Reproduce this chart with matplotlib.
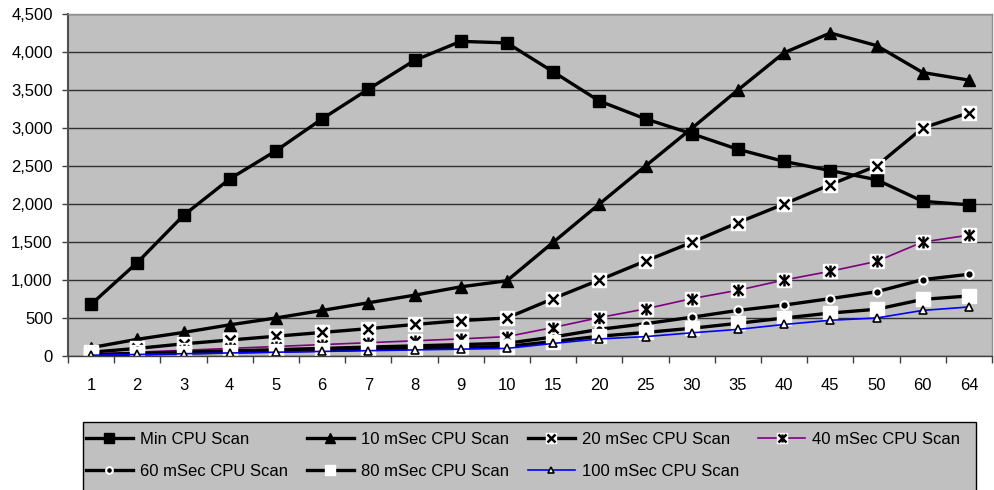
import matplotlib.pyplot as plt
import numpy as np
from matplotlib.lines import Line2D
from matplotlib.patches import Rectangle
from matplotlib.ticker import FuncFormatter


# Chart data
categories = ['1', '2', '3', '4', '5', '6', '7', '8', '9', '10',
              '15', '20', '25', '30', '35', '40', '45', '50', '60', '64']

min_scan = [680, 1230, 1850, 2330, 2700, 3120, 3510, 3890, 4140, 4120,
            3740, 3355, 3120, 2925, 2720, 2560, 2440, 2320, 2035, 1990]
ms10_scan = [110, 220, 310, 410, 500, 600, 700, 800, 910, 990,
             1495, 2000, 2500, 2995, 3500, 3990, 4250, 4085, 3730, 3630]
ms20_scan = [50, 100, 160, 210, 260, 310, 360, 415, 465, 500,
             755, 1000, 1250, 1495, 1755, 2000, 2255, 2500, 3000, 3200]
ms40_scan = [25, 50, 75, 100, 125, 150, 175, 200, 225, 255,
             375, 505, 620, 755, 865, 1000, 1115, 1245, 1500, 1590]
ms60_scan = [17, 33, 50, 67, 83, 100, 117, 133, 150, 167,
             250, 350, 425, 510, 600, 670, 755, 845, 1005, 1075]
ms80_scan = [13, 25, 38, 50, 63, 75, 88, 100, 113, 125,
             190, 260, 310, 365, 430, 500, 565, 615, 745, 790]
ms100_scan = [10, 20, 30, 40, 50, 60, 70, 80, 90, 100,
              165, 225, 255, 305, 350, 415, 470, 500, 600, 645]

labels = ['Min CPU Scan', '10 mSec CPU Scan', '20 mSec CPU Scan',
          '40 mSec CPU Scan', '60 mSec CPU Scan', '80 mSec CPU Scan',
          '100 mSec CPU Scan']

PLOT_BG = '#c0c0c0'
PURPLE = '#800080'
BLUE = '#0000ff'

plt.rcParams['font.family'] = ['Liberation Sans', 'DejaVu Sans']

fig = plt.figure(figsize=(9.95, 4.9), dpi=100)
W, H = 995.0, 490.0
ax = fig.add_axes([68 / W, 1 - 356 / H, (992 - 68) / W, (356 - 14) / H])
ax.set_facecolor(PLOT_BG)

x = np.arange(len(categories))
LW = 2.4

# Min CPU: black squares
h_min = ax.plot(x, min_scan, color='black', lw=LW, marker='s', ms=8.5,
                mfc='black', mec='black')[0]

# 10 mSec: black triangles
h_10 = ax.plot(x, ms10_scan, color='black', lw=LW, marker='^', ms=9,
               mfc='black', mec='black')[0]

# 20 mSec: X on a white square
ax.plot(x, ms20_scan, color='black', lw=LW)
h20_box = ax.plot(x, ms20_scan, ls='none', marker='s', ms=9.5,
                  mfc='white', mec='white')[0]
h20_x = ax.plot(x, ms20_scan, ls='none', marker='x', ms=7, mew=1.8,
                color='black')[0]
h20_line = Line2D([], [], color='black', lw=LW)

# 40 mSec: purple thin line, star (x with bar) on a white square
ax.plot(x, ms40_scan, color=PURPLE, lw=1.2)
h40_box = ax.plot(x, ms40_scan, ls='none', marker='s', ms=9.5,
                  mfc='white', mec='white')[0]
h40_x = ax.plot(x, ms40_scan, ls='none', marker='x', ms=7, mew=1.8,
                color='black')[0]
h40_bar = ax.plot(x, ms40_scan, ls='none', marker='|', ms=8, mew=1.8,
                  color='black')[0]
h40_line = Line2D([], [], color=PURPLE, lw=1.2)

# 60 mSec: small black dot with white ring
h_60 = ax.plot(x, ms60_scan, color='black', lw=LW, marker='o', ms=6,
               mfc='black', mec='white', mew=1.5)[0]

# 80 mSec: white squares
h_80 = ax.plot(x, ms80_scan, color='black', lw=LW, marker='s', ms=9.5,
               mfc='white', mec='white')[0]

# 100 mSec: blue thin line, small open triangles
h_100 = ax.plot(x, ms100_scan, color=BLUE, lw=1.2, marker='^', ms=6,
                mfc='white', mec='black', mew=1.2)[0]

# Axes styling
ax.set_xlim(-0.5, len(categories) - 0.5)
ax.set_ylim(0, 4500)
ax.set_yticks(np.arange(0, 4501, 500))
ax.yaxis.set_major_formatter(FuncFormatter(lambda v, p: f'{int(v):,}'))
ax.set_xticks(x)
ax.set_xticklabels(categories)
ax.set_xticks(np.arange(-0.5, len(categories), 1), minor=True)
ax.tick_params(axis='x', which='major', length=0, pad=16, labelsize=12)
ax.tick_params(axis='x', which='minor', length=5, width=1, color='#404040')
ax.tick_params(axis='y', length=4, width=1, color='#404040', pad=7,
               labelsize=12)

ax.grid(axis='y', color='#303030', lw=1)
ax.set_axisbelow(True)

ax.spines['left'].set_color('#505050')
ax.spines['left'].set_linewidth(1.5)
ax.spines['bottom'].set_color('#404040')
ax.spines['bottom'].set_linewidth(1)
for side in ('top', 'right'):
    ax.spines[side].set_color('#909090')
    ax.spines[side].set_linewidth(1)

# Legend box drawn by hand, legend entries placed inside
fig.patches.append(Rectangle((83 / W, -0.01), (976 - 83) / W,
                             (490 - 422) / H + 0.01,
                             transform=fig.transFigure, facecolor=PLOT_BG,
                             edgecolor='black', lw=1, zorder=0))

handles = [h_min, h_10, (h20_line, h20_box, h20_x),
           (h40_line, h40_box, h40_x, h40_bar),
           h_60, h_80, h_100]
# matplotlib fills legend columns first; reorder so entries run across rows
order = [0, 4, 1, 5, 2, 6, 3]
fig.legend([handles[i] for i in order], [labels[i] for i in order],
           ncol=4, loc='upper left', mode='expand',
           bbox_to_anchor=(86 / W, 0, 874 / W, 1 - 432 / H), frameon=False,
           fontsize=12, handlelength=2.8, handletextpad=0.42,
           columnspacing=1.0, labelspacing=1.0, borderpad=0,
           borderaxespad=0, markerscale=0.8)

plt.savefig('out.png', dpi=100, facecolor='white')
